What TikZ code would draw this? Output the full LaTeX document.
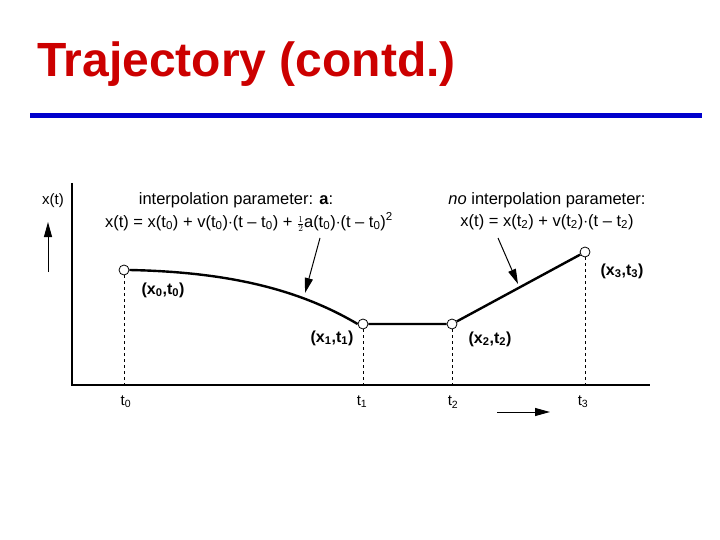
\documentclass[tikz,border=0pt]{standalone}
\usepackage{fontspec}
\setmainfont{Liberation Sans}
\usetikzlibrary{arrows.meta}
\definecolor{titlered}{RGB}{204,0,0}
\definecolor{barblue}{RGB}{0,0,204}
\newcommand{\sbx}[1]{\textsubscript{#1}}
\begin{document}
\begin{tikzpicture}[x=1pt,y=-1pt,
  pt/.style={circle,draw,fill=white,inner sep=0pt,minimum size=10pt,line width=0.8pt},
  lbl/.style={font=\fontsize{15}{17}\selectfont,inner sep=1pt},
  flbl/.style={font=\fontsize{16.5}{18}\selectfont,inner sep=1pt},
  blbl/.style={font=\bfseries\fontsize{16}{18}\selectfont,inner sep=1pt},
  dsh/.style={dashed,line width=0.7pt},
  arr/.style={-{Triangle[length=15pt,width=8pt]},line width=1pt}]
\useasboundingbox (0,0) rectangle (720,540);
\node[anchor=base west,text=titlered,font=\bfseries\fontsize{48}{52}\selectfont,inner sep=0pt] (title) at (37,77) {Trajectory (contd.)};
\draw[barblue,line width=5pt] (30,116) -- (702,116);
\coordinate (ya) at (72,183); \coordinate (o) at (72,385); \coordinate (xa) at (650,385);
\draw[line width=1.4pt] (ya) -- (o) -- (xa);
\coordinate (ua) at (48,272); \coordinate (ub) at (48,222);
\draw[arr] (ua) -- (ub);
\coordinate (ra) at (497,412); \coordinate (rb) at (550,412);
\draw[arr] (ra) -- (rb);
\node[lbl] (xt) at (53,201) {x(t)};
\node[pt] (p0) at (124,270) {};
\node[pt] (p1) at (363,324) {};
\node[pt] (p2) at (452,324) {};
\node[pt] (p3) at (585,252) {};
\coordinate (b0) at (124,385); \coordinate (b1) at (363,385);
\coordinate (b2) at (452,385); \coordinate (b3) at (585,385);
\draw[dsh] (p0) -- (b0); \draw[dsh] (p1) -- (b1);
\draw[dsh] (p2) -- (b2); \draw[dsh] (p3) -- (b3);
\draw[line width=2.4pt] (p0.east) .. controls (230,272) and (300,290) .. (p1.west);
\draw[line width=2.4pt] (p1) -- (p2) (p2) -- (p3);
\node[lbl] (t0) at (126,402) {t\sbx{0}};
\node[lbl] (t1) at (362,402) {t\sbx{1}};
\node[lbl] (t2) at (453,402) {t\sbx{2}};
\node[lbl] (t3) at (583,402) {t\sbx{3}};
\node[blbl] (l0) at (163,290) {(x\sbx{0},t\sbx{0})};
\node[blbl] (l1) at (332,338) {(x\sbx{1},t\sbx{1})};
\node[blbl] (l2) at (490,339) {(x\sbx{2},t\sbx{2})};
\node[blbl] (l3) at (622,271) {(x\sbx{3},t\sbx{3})};
\node[flbl] (h1) at (236,200) {interpolation parameter: \textbf{a}:};
\node[flbl] (f1) at (249,222) {x(t) = x(t\sbx{0}) + v(t\sbx{0})$\cdot$(t – t\sbx{0}) + {\fontsize{13}{13}\selectfont$\frac{1}{2}$}a(t\sbx{0})$\cdot$(t – t\sbx{0})\textsuperscript{2}};
\node[flbl] (h2) at (547,200) {\textit{no} interpolation parameter:};
\node[flbl] (f2) at (547,222) {x(t) = x(t\sbx{2}) + v(t\sbx{2})$\cdot$(t – t\sbx{2})};
\coordinate (a1s) at (320,238); \coordinate (a1e) at (305,293);
\coordinate (a2s) at (498,238); \coordinate (a2e) at (518,284);
\draw[arr] (a1s) -- (a1e);
\draw[arr] (a2s) -- (a2e);
\end{tikzpicture}
\end{document}
